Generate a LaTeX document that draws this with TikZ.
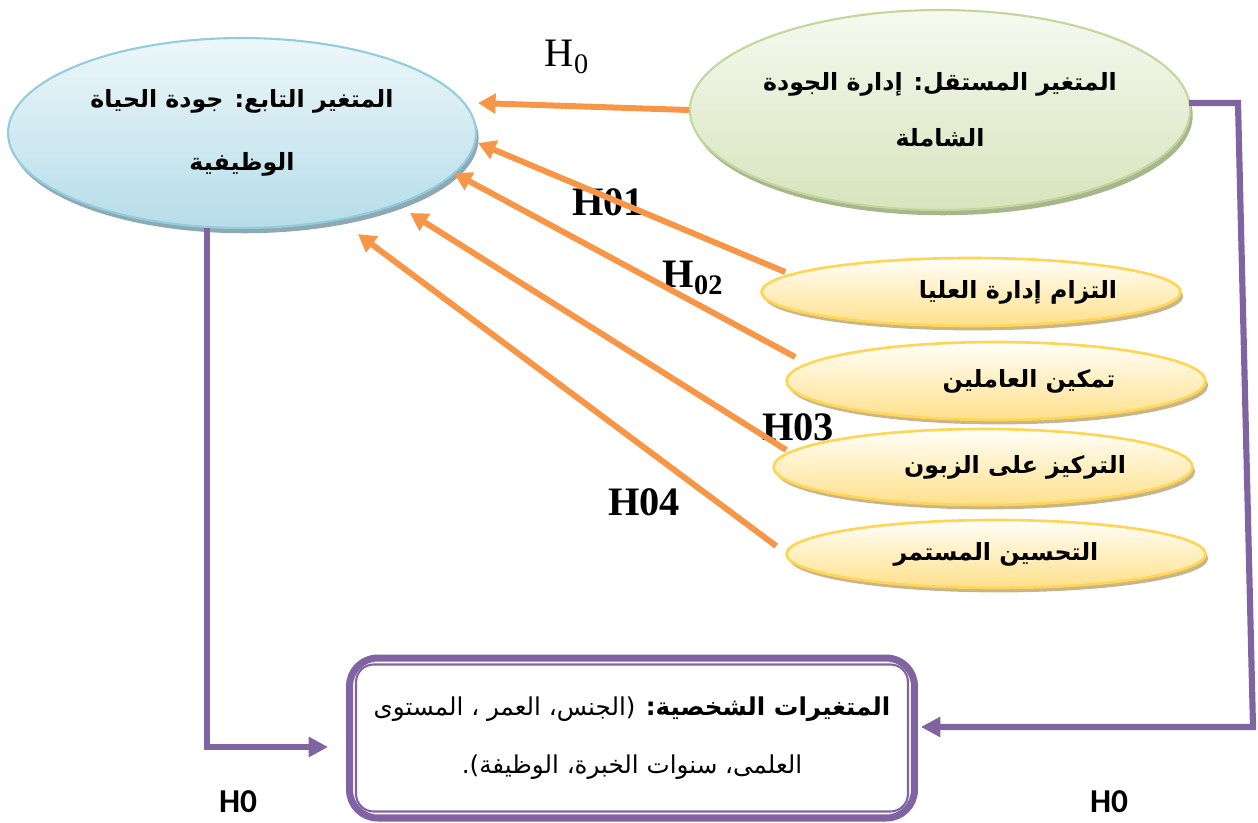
\documentclass[tikz,border=0pt]{standalone}
\usepackage{fontspec}
\setmainfont{Liberation Serif}
\newfontfamily\arabicfont[Script=Arabic]{DejaVu Sans}
\newfontfamily\hzerofont{Carlito}
\TeXXeTstate=1
\usetikzlibrary{arrows.meta,shadows,shapes.geometric,positioning}

\definecolor{hyporange}{HTML}{F79646}
\definecolor{linkpurple}{HTML}{8064A2}
\definecolor{depline}{HTML}{93CDDD}
\definecolor{deptop}{HTML}{EDF7FA}
\definecolor{depbot}{HTML}{B6DDE8}
\definecolor{depshadow}{HTML}{8DAAB2}
\definecolor{indline}{HTML}{C3D69B}
\definecolor{indtop}{HTML}{F6F9F0}
\definecolor{indbot}{HTML}{D7E4BD}
\definecolor{indshadow}{HTML}{A7B68C}
\definecolor{dimline}{HTML}{FFD555}
\definecolor{dimtop}{HTML}{FFFEF8}
\definecolor{dimbot}{HTML}{FFE08A}
\definecolor{dimshadow}{HTML}{C9B58A}

\begin{document}
\begin{tikzpicture}[x=0.02cm,y=-0.02cm,
  var/.style={ellipse,inner sep=0pt,align=center,line width=1.2pt,
    font=\arabicfont\bfseries\fontsize{13.5}{16}\selectfont},
  depvar/.style={var,draw=depline,top color=deptop,bottom color=depbot,
    minimum width=9.36cm,minimum height=3.8cm,
    drop shadow={shadow xshift=1.5pt,shadow yshift=-3pt,fill=depshadow,opacity=1}},
  indvar/.style={var,draw=indline,top color=indtop,bottom color=indbot,
    minimum width=9.7cm,minimum height=4cm,
    drop shadow={shadow xshift=1.5pt,shadow yshift=-3pt,fill=indshadow,opacity=1}},
  dimvar/.style={var,draw=dimline,line width=1.5pt,top color=dimtop,bottom color=dimbot,
    minimum width=8.38cm,
    drop shadow={shadow xshift=1.5pt,shadow yshift=-2.5pt,fill=dimshadow,opacity=1}},
  dimtext/.style={inner sep=0pt,font=\arabicfont\bfseries\fontsize{13.5}{16}\selectfont},
  persbox/.style={draw=linkpurple,line width=4pt,rounded corners=16pt,fill=white,
    minimum width=11.3cm,minimum height=3.2cm,align=center,
    font=\arabicfont\fontsize{14}{17}\selectfont},
  hyp/.style={draw=hyporange,line width=3.4pt,-{Triangle[length=10pt,width=11pt]}},
  link/.style={draw=linkpurple,line width=3.5pt,-{Triangle[length=11pt,width=11pt]}},
  hlab/.style={inner sep=0pt,font=\bfseries\fontsize{23}{26}\selectfont},
  hzero/.style={inner sep=0pt,font=\hzerofont\bfseries\fontsize{19}{21}\selectfont}]
\useasboundingbox (0,0) rectangle (1258,822);

% variables
\node[depvar] (dep) at (242,133) {\beginR المتغير التابع: جودة الحياة\endR\\[20pt]\beginR الوظيفية\endR};
\node[indvar] (ind) at (940,110) {\beginR المتغير المستقل: إدارة الجودة\endR\\[16pt]\beginR الشاملة\endR};

\node[dimvar,minimum height=1.36cm,label={[dimtext,shift={(47,0)}]center:{\beginR التزام إدارة العليا\endR}}] (d1) at (971,292) {};
\node[dimvar,minimum height=1.56cm,label={[dimtext,shift={(33,0)}]center:{\beginR تمكين العاملين\endR}}] (d2) at (996,381) {};
\node[dimvar,minimum height=1.52cm,label={[dimtext,shift={(32,0)}]center:{\beginR التركيز على الزبون\endR}}] (d3) at (983,467) {};
\node[dimvar,minimum height=1.36cm,label={[dimtext,shift={(0,0)}]center:{\beginR التحسين المستمر\endR}}] (d4) at (996,554) {};

\node[persbox] (pers) at (632,738) {\beginR\textbf{المتغيرات الشخصية:} (الجنس، العمر ، المستوى\endR\\[16pt]\beginR العلمى، سنوات الخبرة، الوظيفة).\endR};
\draw[linkpurple,line width=1.2pt,rounded corners=10pt] ([shift={(10,10)}]pers.north west) rectangle ([shift={(-10,-10)}]pers.south east);

% hypotheses
\node[font=\fontsize{23}{26}\selectfont,inner sep=0pt] (h0) at (567,57) {H\textsubscript{0}};
\node[hlab] (h01) at (608,202) {H01};
\node[hlab] (h02) at (693,278) {H\textsubscript{02}};
\node[hlab] (h03) at (798,427) {H03};
\node[hlab] (h04) at (644,502) {H04};
\node[hzero] (hl) at (238,802) {H0};
\node[hzero] (hr) at (1109,802) {H0};

\draw[hyp] (ind.west) -- ([shift={(1,-30)}]dep.east);
\draw[hyp] ([shift={(25,-20)}]d1.west) -- ([shift={(1,10)}]dep.east);
\draw[hyp] ([shift={(10,-24)}]d2.west) -- ([shift={(-23,40)}]dep.east);
\draw[hyp] ([shift={(14,-17)}]d3.west) -- ([shift={(168,-16)}]dep.south);
\draw[hyp] ([shift={(-9,-8)}]d4.west) -- ([shift={(116,5)}]dep.south);

% control variables
\coordinate (rtop) at (1238,103);
\coordinate (rbot) at (1253,727);
\draw[link] ([shift={(-35,-1)}]dep.south) |- ([shift={(-18,9)}]pers.west);
\draw[link] ([shift={(-2,-7)}]ind.east) -- (rtop) -- (rbot) -- ([shift={(3,-11)}]pers.east);
\end{tikzpicture}
\end{document}
